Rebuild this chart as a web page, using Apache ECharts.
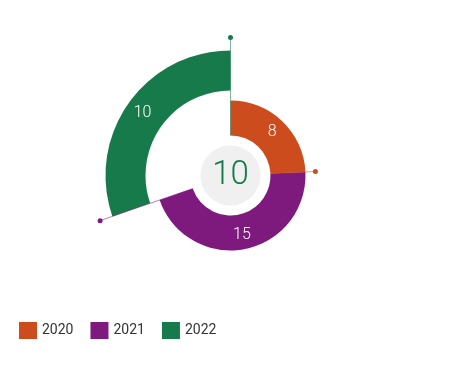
<!DOCTYPE html>
<html>
<head>
<meta charset="utf-8">
<script src="https://cdn.jsdelivr.net/npm/echarts@6/dist/echarts.min.js"></script>
<style>html,body{margin:0;padding:0;background:#fff}#c{width:461px;height:369px}</style>
</head>
<body>
<div id="c"></div>
<script>
const categories = ['2020', '2021', '2022'];
const values = [8, 15, 10];
const centerValue = 10;

const colors = ['#CC4C1E', '#7E1A7E', '#177A4A'];
const innerR = [40, 40, 85];
const outerR = [75, 75, 125];
const CENTER = [230.5, 175.5];
const FONT = "Roboto, 'Noto Sans', sans-serif";

const total = values.reduce((a, b) => a + b, 0);
const series = [];

// one pie per visible slice
categories.forEach((cat, i) => {
  series.push({
    type: 'pie',
    center: CENTER,
    radius: [innerR[i], outerR[i]],
    startAngle: 90,
    clockwise: true,
    silent: true,
    z: 2,
    data: categories.map((c, j) => ({
      name: c,
      value: values[j],
      itemStyle: { color: j === i ? colors[j] : 'rgba(0,0,0,0)' },
      label: j === i ? {
        show: true, position: 'inside', formatter: '{c}',
        color: '#fff', fontSize: 16, fontWeight: 300, fontFamily: FONT
      } : { show: false }
    })),
    labelLine: { show: false },
    emphasis: { disabled: true }
  });
});

// center disc
series.push({
  type: 'pie',
  center: CENTER,
  radius: [0, 30],
  silent: true,
  data: [{ name: 'center', value: 1, itemStyle: { color: '#F0F0F0' } }],
  label: {
    show: true, position: 'center', formatter: String(centerValue),
    color: '#177A4A', fontSize: 33, fontWeight: 300, fontFamily: FONT
  },
  labelLine: { show: false },
  emphasis: { disabled: true }
});

// boundary lines with dots at each slice end
let cum = 0;
categories.forEach((cat, i) => {
  cum += values[i];
  const next = (i + 1) % categories.length;
  const endR = Math.max(outerR[i], outerR[next]) + (outerR[i] === outerR[next] ? 10 : 13);
  const startR = Math.min(innerR[i], innerR[next]);
  series.push({
    type: 'line',
    coordinateSystem: 'polar',
    silent: true,
    z: 5,
    lineStyle: { color: colors[i], width: 1, opacity: 0.55 },
    itemStyle: { color: colors[i] },
    data: [
      { value: [startR, cum], symbol: 'none' },
      { value: [endR, cum], symbol: 'circle', symbolSize: 5 }
    ]
  });
});

const chart = echarts.init(document.getElementById('c'));
chart.setOption({
  animation: false,
  polar: { center: CENTER, radius: 150 },
  radiusAxis: { type: 'value', min: 0, max: 150, show: false },
  angleAxis: { type: 'value', min: 0, max: total, startAngle: 90, clockwise: true, show: false },
  legend: {
    left: 14, top: 317,
    itemWidth: 18, itemHeight: 17, itemGap: 17,
    icon: 'rect',
    data: categories.map((c, i) => ({ name: c, itemStyle: { color: colors[i] } })),
    textStyle: { fontSize: 14, color: '#333', fontFamily: FONT }
  },
  series: series
});
</script>
</body>
</html>
